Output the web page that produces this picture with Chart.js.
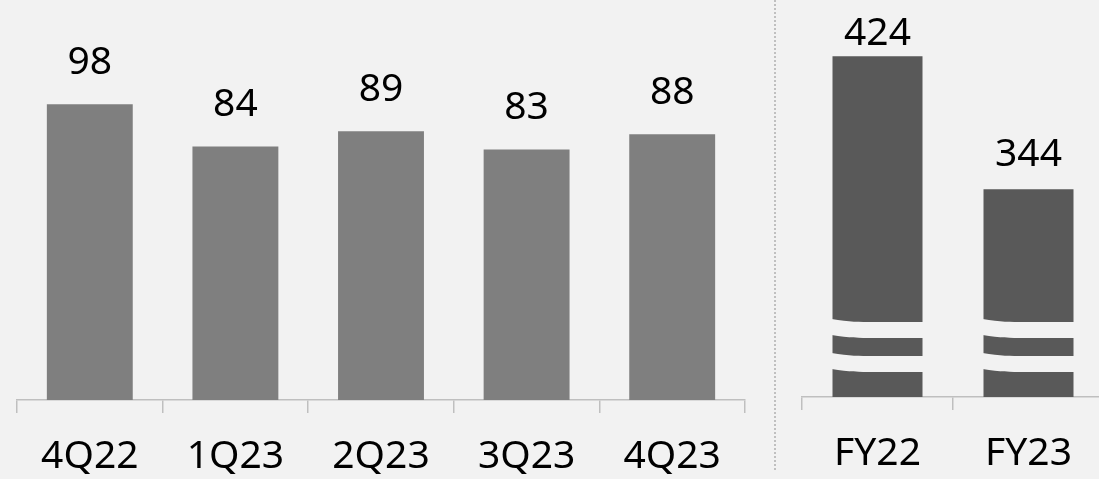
<!DOCTYPE html>
<html>
<head>
<meta charset="utf-8">
<script src="https://cdn.jsdelivr.net/npm/chart.js@4"></script>
<style>
  html, body { margin: 0; padding: 0; background: #f2f2f2; overflow: hidden; width: 1099px; height: 479px; }
  #quarterWrap { position: absolute; left: 0; top: 0; width: 760px; height: 479px; }
  #yearWrap { position: absolute; left: 790px; top: 0; width: 320px; height: 479px; }
  #divider { position: absolute; left: 774px; top: 0; height: 470px; border-left: 2px dotted #c0c0c0; }
</style>
</head>
<body>
<div id="quarterWrap"><canvas id="quarterChart" width="760" height="479"></canvas></div>
<div id="divider"></div>
<div id="yearWrap"><canvas id="yearChart" width="320" height="479"></canvas></div>
<script>
var quarterLabels = ["4Q22", "1Q23", "2Q23", "3Q23", "4Q23"];
var quarterValues = [98, 84, 89, 83, 88];
var yearLabels = ["FY22", "FY23"];
var yearValues = [424, 344];

var labelFont = "39px 'Noto Sans'";

// value labels above the bars
var valueLabels = {
  id: "valueLabels",
  afterDatasetsDraw: function (chart, args, opts) {
    var ctx = chart.ctx;
    var meta = chart.getDatasetMeta(0);
    var data = chart.data.datasets[0].data;
    ctx.save();
    ctx.font = labelFont;
    ctx.fillStyle = "#000";
    ctx.textAlign = "center";
    ctx.textBaseline = "alphabetic";
    meta.data.forEach(function (bar, i) {
      var y = Math.max(bar.y - opts.offset, opts.minY);
      ctx.fillText(data[i], bar.x, y);
    });
    ctx.restore();
  }
};

// broken-axis marks on the yearly bars (only used on the FY chart)
var breakMarks = {
  id: "breakMarks",
  afterDatasetsDraw: function (chart) {
    var ctx = chart.ctx;
    var meta = chart.getDatasetMeta(0);
    var bottom = chart.chartArea.bottom;
    ctx.save();
    ctx.fillStyle = "#f2f2f2";
    meta.data.forEach(function (bar) {
      var l = bar.x - bar.width / 2 - 1;
      var r = bar.x + bar.width / 2 + 1;
      var w = r - l;
      [78, 44].forEach(function (off) {
        var top = bottom - off;
        var h = 16;
        ctx.beginPath();
        ctx.moveTo(l, top);
        ctx.bezierCurveTo(l + w * 0.2, top + 3, l + w * 0.3, top + 3, l + w * 0.45, top + 3);
        ctx.lineTo(r, top + 3);
        ctx.lineTo(r, top + h + 3);
        ctx.lineTo(l + w * 0.45, top + h + 3);
        ctx.bezierCurveTo(l + w * 0.3, top + h + 3, l + w * 0.2, top + h + 3, l, top + h);
        ctx.closePath();
        ctx.fill();
      });
    });
    ctx.restore();
  }
};

function makeOptions(padL, padR, yMin, yMax, axisHeight, offset) {
  return {
    responsive: false,
    animation: false,
    layout: { padding: { left: padL, right: padR, top: 0, bottom: 0 } },
    plugins: {
      legend: { display: false },
      tooltip: { enabled: false },
      valueLabels: { offset: offset, minY: 45 }
    },
    scales: {
      y: { display: false, min: yMin, max: yMax },
      x: {
        afterFit: function (scale) { scale.height = axisHeight; },
        grid: {
          offset: true,
          drawOnChartArea: false,
          drawTicks: true,
          tickLength: 13,
          color: "#bfbfbf",
          lineWidth: 1.5
        },
        border: { color: "#bfbfbf", width: 1.5 },
        ticks: {
          color: "#000",
          padding: 20,
          font: { family: "'Noto Sans'", size: 39 }
        }
      }
    }
  };
}

new Chart(document.getElementById("quarterChart"), {
  type: "bar",
  data: {
    labels: quarterLabels,
    datasets: [{
      data: quarterValues,
      backgroundColor: "#7f7f7f",
      categoryPercentage: 1,
      barPercentage: 0.59
    }]
  },
  options: makeOptions(17, 15, 0, 132.5, 79, 30),
  plugins: [valueLabels]
});

new Chart(document.getElementById("yearChart"), {
  type: "bar",
  data: {
    labels: yearLabels,
    datasets: [{
      data: yearValues,
      backgroundColor: "#595959",
      categoryPercentage: 1,
      barPercentage: 0.596
    }]
  },
  options: makeOptions(12, 6, 219, 457.8, 82, 23),
  plugins: [valueLabels, breakMarks]
});
</script>
</body>
</html>
